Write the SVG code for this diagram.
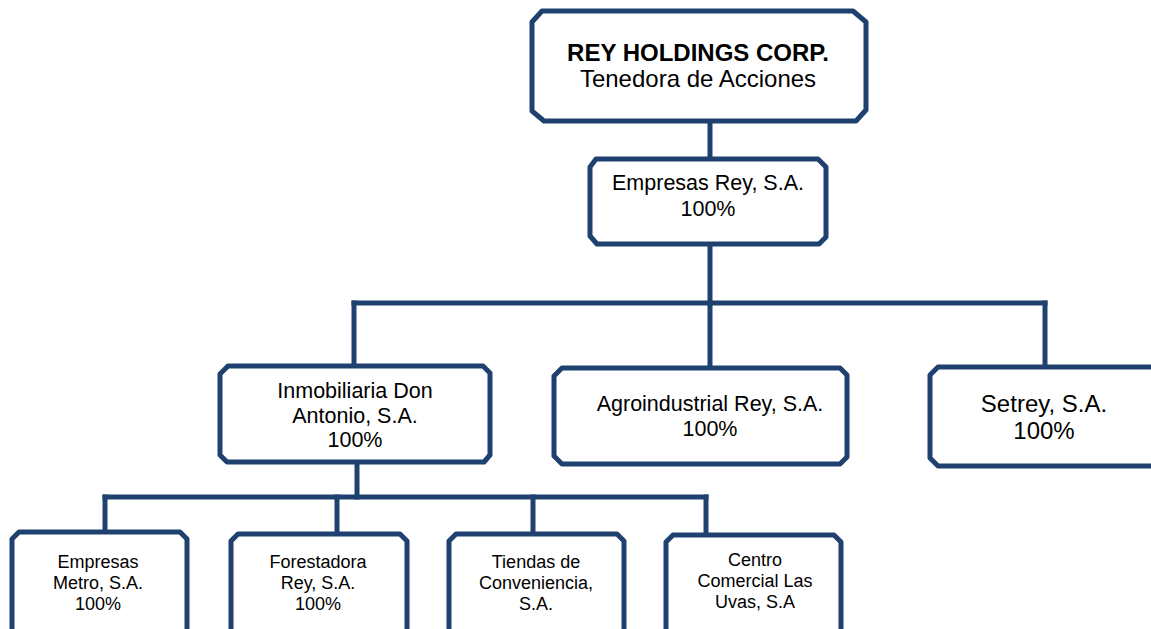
<svg xmlns="http://www.w3.org/2000/svg" width="1151" height="629" viewBox="0 0 1151 629">
<style>
.box{fill:#fff;stroke:#1f4170;stroke-width:5;stroke-linejoin:round}
.ln{fill:none;stroke:#1f4170;stroke-width:5;stroke-linecap:square}
text{font-family:"Liberation Sans",Arial,sans-serif;fill:#000;text-anchor:middle}
.t24{font-size:24px}
.t21{font-size:21.5px}
.t18{font-size:18px}
</style>
<rect width="1151" height="629" fill="#fff"/>
<g id="connectors">
<path class="ln" d="M710 122V158"/>
<path class="ln" d="M710 245V303"/>
<path class="ln" d="M354 303H1045"/>
<path class="ln" d="M354 303V365"/>
<path class="ln" d="M710 303V367"/>
<path class="ln" d="M1045 303V366"/>
<path class="ln" d="M357 463V497"/>
<path class="ln" d="M105 497H706"/>
<path class="ln" d="M105 497V530"/>
<path class="ln" d="M337 497V532"/>
<path class="ln" d="M533 497V532"/>
<path class="ln" d="M706 497V533"/>
</g>
<g id="n-rey">
<path class="box" d="M542 11H853L866 22V110L856 121H544L532 111V22Z"/>
<text x="698" y="61" class="t24" font-weight="bold">REY HOLDINGS CORP.</text>
<text x="698" y="87" class="t24">Tenedora de Acciones</text>
</g>
<g id="n-empresas-rey">
<path class="box" d="M596 159H818L826 167V237L819 244H597L590 236V167Z"/>
<text x="708" y="190" class="t21">Empresas Rey, S.A.</text>
<text x="708" y="216" class="t21">100%</text>
</g>
<g id="n-inmobiliaria">
<path class="box" d="M228 366H483L490 373V455L484 462H227L220 455V374Z"/>
<text x="355" y="398" class="t21">Inmobiliaria Don</text>
<text x="355" y="423" class="t21">Antonio, S.A.</text>
<text x="355" y="447" class="t21">100%</text>
</g>
<g id="n-agro">
<path class="box" d="M562 368H840L847 375V457L840 464H562L554 456V376Z"/>
<text x="710" y="411" class="t21">Agroindustrial Rey, S.A.</text>
<text x="710" y="436" class="t21">100%</text>
</g>
<g id="n-setrey">
<path class="box" d="M938 367H1156V466H938L930 458V375Z"/>
<text x="1044" y="412" class="t24">Setrey, S.A.</text>
<text x="1044" y="439" class="t24">100%</text>
</g>
<g id="n-metro">
<path class="box" d="M19 532H180L187 539V634H12V539Z"/>
<text x="98" y="568" class="t18">Empresas</text>
<text x="98" y="589" class="t18">Metro, S.A.</text>
<text x="98" y="610" class="t18">100%</text>
</g>
<g id="n-forestadora">
<path class="box" d="M238 534H400L407 541V634H231V541Z"/>
<text x="318" y="568" class="t18">Forestadora</text>
<text x="318" y="589" class="t18">Rey, S.A.</text>
<text x="318" y="610" class="t18">100%</text>
</g>
<g id="n-tiendas">
<path class="box" d="M456 534H617L624 541V634H449V541Z"/>
<text x="536" y="568" class="t18">Tiendas de</text>
<text x="536" y="589" class="t18">Conveniencia,</text>
<text x="536" y="610" class="t18">S.A.</text>
</g>
<g id="n-centro">
<path class="box" d="M673 535H834L841 542V634H666V542Z"/>
<text x="755" y="566" class="t18">Centro</text>
<text x="755" y="587" class="t18">Comercial Las</text>
<text x="755" y="608" class="t18">Uvas, S.A</text>
</g>
</svg>
